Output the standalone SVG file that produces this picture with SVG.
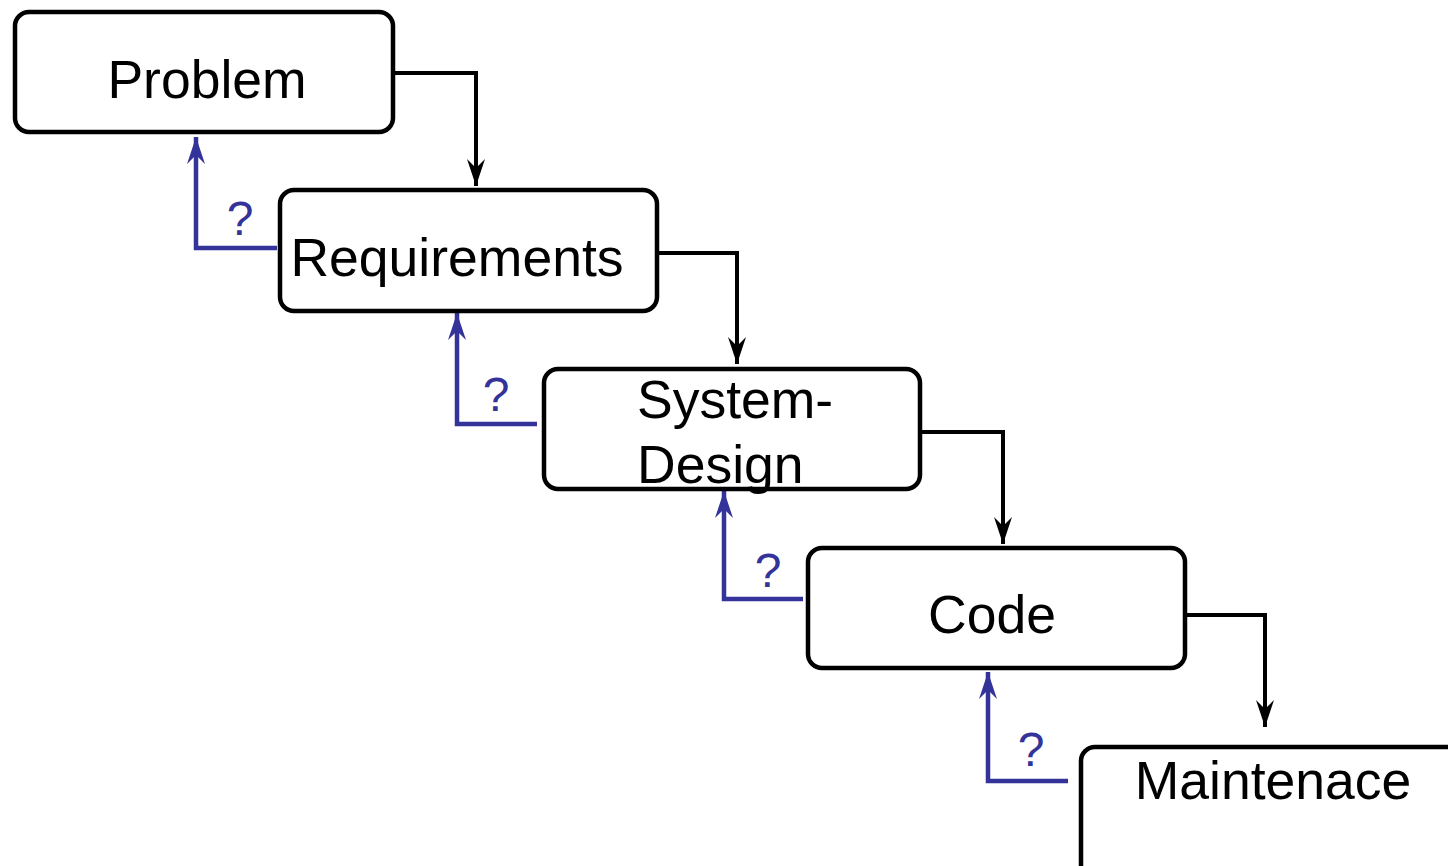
<svg xmlns="http://www.w3.org/2000/svg" width="1448" height="866" viewBox="0 0 1448 866">
<defs>
<style>
.box{fill:#fff;stroke:#000;stroke-width:4.5}
.lbl{font-family:"Liberation Sans",Arial,sans-serif;font-size:53.5px;fill:#000}
.q{font-family:"Liberation Sans",Arial,sans-serif;font-size:48px;fill:#333399;text-anchor:middle}
.fw{fill:none;stroke:#000;stroke-width:4}
.bk{fill:none;stroke:#333399;stroke-width:4.5}
</style>
<marker id="ab" markerUnits="userSpaceOnUse" markerWidth="30" markerHeight="22" viewBox="-28 -11 30 22" refX="0" refY="0" orient="auto">
<path d="M0,0 L-27,-9 L-18,0 L-27,9 z" fill="#000"/>
</marker>
<marker id="ac" markerUnits="userSpaceOnUse" markerWidth="30" markerHeight="22" viewBox="-28 -11 30 22" refX="0" refY="0" orient="auto">
<path d="M0,0 L-27,-9 L-18,0 L-27,9 z" fill="#333399"/>
</marker>
</defs>
<rect width="1448" height="866" fill="#fff"/>
<g id="connectors">
<path class="fw" d="M395,73 H476 V186" marker-end="url(#ab)"/>
<path class="fw" d="M659,253 H737 V364" marker-end="url(#ab)"/>
<path class="fw" d="M922,432 H1003 V544" marker-end="url(#ab)"/>
<path class="fw" d="M1187,615 H1265 V727" marker-end="url(#ab)"/>
<path class="bk" d="M277,248 H196 V137" marker-end="url(#ac)"/>
<path class="bk" d="M537,424 H457 V313" marker-end="url(#ac)"/>
<path class="bk" d="M803,599 H724 V491" marker-end="url(#ac)"/>
<path class="bk" d="M1068,781 H988 V672" marker-end="url(#ac)"/>
<text class="q" x="240" y="235">?</text>
<text class="q" x="496" y="411">?</text>
<text class="q" x="768" y="587">?</text>
<text class="q" x="1031" y="766">?</text>
</g>
<g id="problem">
<rect class="box" x="15" y="12" width="378" height="120" rx="14"/>
<text class="lbl" x="207" y="98" text-anchor="middle">Problem</text>
</g>
<g id="requirements">
<rect class="box" x="280" y="190" width="377" height="121" rx="14"/>
<text class="lbl" x="457" y="276" text-anchor="middle">Requirements</text>
</g>
<g id="system-design">
<rect class="box" x="544" y="369" width="376" height="120" rx="14"/>
<text class="lbl" x="637" y="418">System-</text>
<text class="lbl" x="637" y="483">Design</text>
</g>
<g id="code">
<rect class="box" x="808" y="548" width="377" height="120" rx="14"/>
<text class="lbl" x="992" y="633" text-anchor="middle">Code</text>
</g>
<g id="maintenance">
<rect class="box" x="1081" y="747" width="380" height="140" rx="14"/>
<text class="lbl" x="1273" y="799" text-anchor="middle">Maintenace</text>
</g>
</svg>
